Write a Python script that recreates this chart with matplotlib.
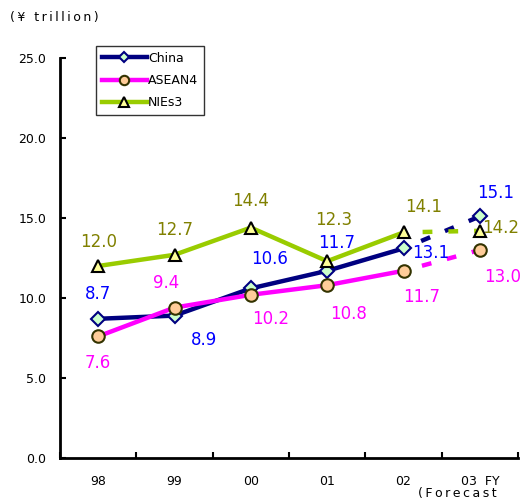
import matplotlib.pyplot as plt
import numpy as np

years = ["98", "99", "00", "01", "02", "03  FY"]
china = [8.7, 8.9, 10.6, 11.7, 13.1, 15.1]
asean4 = [7.6, 9.4, 10.2, 10.8, 11.7, 13.0]
nies3 = [12.0, 12.7, 14.4, 12.3, 14.1, 14.2]

# value label offsets in pixels (dx, dy), y pointing up
china_off = [(0, 25), (30, -24), (19, 29), (9, 28), (27, -5), (16, 23)]
asean_off = [(0, -27), (-8, 25), (20, -24), (21, -29), (18, -26), (23, -27)]
nies_off = [(0, 24), (0, 25), (0, 27), (7, 41), (20, 25), (21, 3)]


def spaced(s):
    # loose letter spacing, like the original typeface
    return "\u2009".join(s)


fig = plt.figure(figsize=(5.28, 5.03), dpi=100)
ax = fig.add_axes([60 / 528, 45 / 503, 458 / 528, 400 / 503])

x = np.arange(len(years))

series = [
    ("China", china, "#000080", "D", "#CCFFCC", "#000080", "#0000FF", china_off, 7),
    ("ASEAN4", asean4, "#FF00FF", "o", "#FFCC99", "#333300", "#FF00FF", asean_off, 9),
    ("NIEs3", nies3, "#99CC00", "^", "#FFFF99", "#000000", "#808000", nies_off, 9),
]

for name, vals, col, mk, mfc, mec, tcol, offs, ms in series:
    # actual results, solid
    ax.plot(x[:5], vals[:5], color=col, lw=3.2, marker=mk, ms=ms,
            mfc=mfc, mec=mec, mew=1.5, label=name, zorder=3)
    # forecast segment, dashed
    ax.plot(x[4:], vals[4:], color=col, lw=3.2, ls=(1.5, (2.2, 3.6)), zorder=2)
    ax.plot(x[5], vals[5], marker=mk, ms=ms, mfc=mfc, mec=mec, mew=1.5,
            ls="none", zorder=3)
    for xi, v, (dx, dy) in zip(x, vals, offs):
        ax.annotate(f"{v:.1f}", (xi, v), xytext=(dx, dy), textcoords="offset pixels",
                    ha="center", va="center", color=tcol, fontsize=12, zorder=4)

ax.set_xlim(-0.5, 5.5)
ax.set_ylim(0, 25)
ax.set_yticks(np.arange(0, 26, 5))
ax.set_yticklabels([f"{v:.1f}" for v in np.arange(0, 26, 5)], fontsize=9)
ax.set_xticks(np.arange(-0.5, 5.6, 1))
ax.set_xticklabels([])
ax.set_xticks(x, minor=True)
ax.set_xticklabels(years, minor=True, fontsize=9)
ax.tick_params(axis="x", which="minor", length=0, pad=12)
ax.tick_params(axis="both", which="major", direction="in", length=4, width=1.5)
ax.tick_params(axis="y", pad=10)

for s in ["top", "right"]:
    ax.spines[s].set_visible(False)
for s in ["left", "bottom"]:
    ax.spines[s].set_linewidth(2)

fig.text(497 / 528, 10 / 503, spaced("(Forecast"), ha="right", va="center", fontsize=9)
fig.text(10 / 528, 485 / 503, spaced("(\u00a5 trillion)"), ha="left", va="center",
         fontsize=9)

leg = ax.legend(loc="upper left", bbox_to_anchor=(36 / 458, 1.03), borderaxespad=0,
                fontsize=9, frameon=True, fancybox=False, edgecolor="black",
                handlelength=3.6, borderpad=0.45, labelspacing=0.75, handletextpad=0.1,
                markerscale=0.75)
leg.get_frame().set_linewidth(1)

fig.savefig("out.png", dpi=100)
